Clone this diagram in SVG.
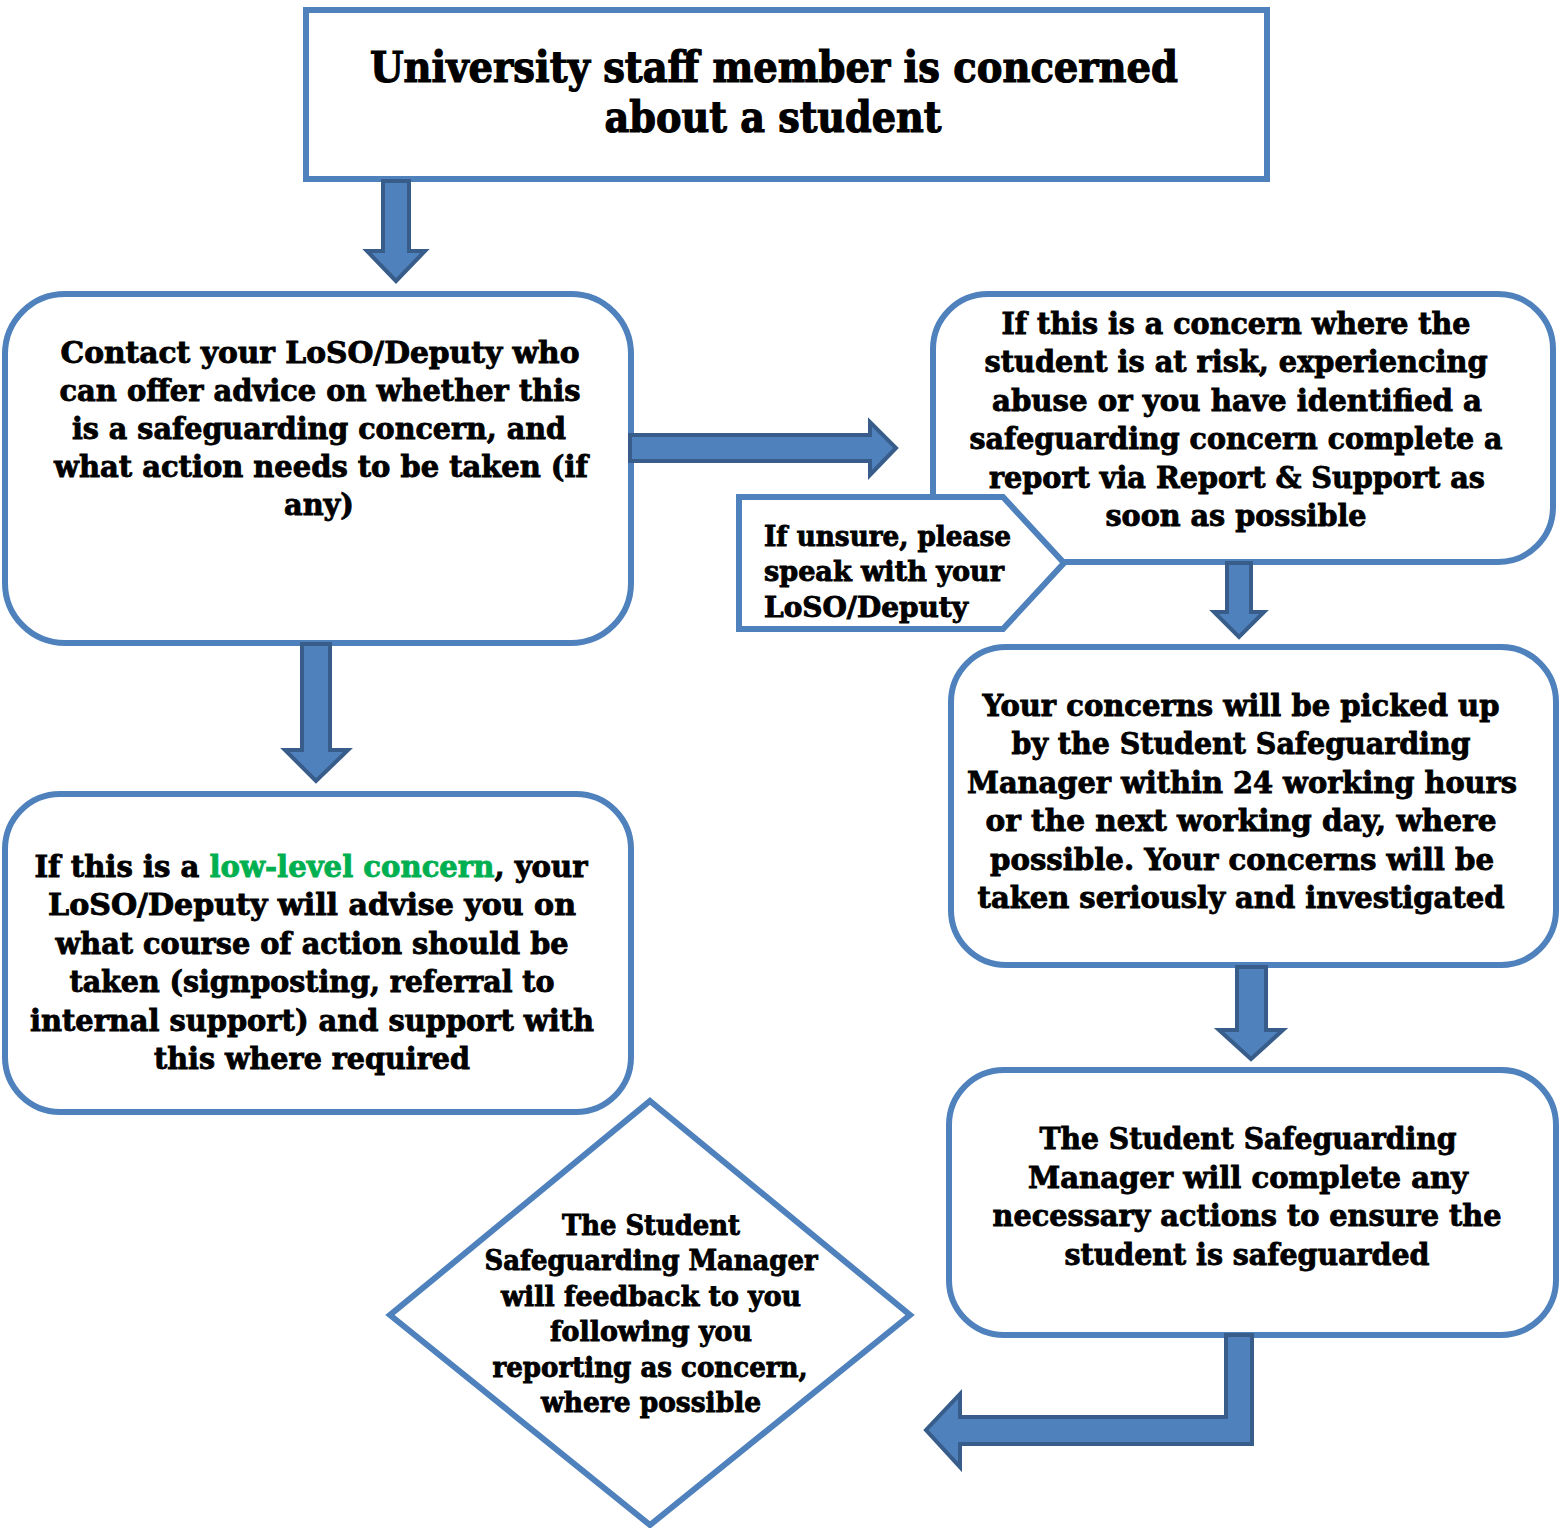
<svg xmlns="http://www.w3.org/2000/svg" width="1559" height="1528" viewBox="0 0 1559 1528">
<style>
.box{fill:#fff;stroke:#4f81bd;stroke-width:6}
.arr{fill:#4f81bd;stroke:#385d8a;stroke-width:4;stroke-linejoin:miter}
text{font-family:"DejaVu Serif Condensed","DejaVu Serif",serif;font-weight:bold;fill:#000;stroke:#000;stroke-width:0.8;text-anchor:middle}
.t{font-size:42px;stroke-width:1.1}
.b{font-size:30px}
.s{font-size:27px}
.l{text-anchor:start}
.g{fill:#00b050;stroke:#00b050}
</style>
<rect width="1559" height="1528" fill="#fff"/>
<g id="n1">
<rect class="box" x="306" y="10" width="961" height="169" stroke-width="5"/>
<text class="t" x="774" y="82" textLength="808" lengthAdjust="spacingAndGlyphs">University staff member is concerned</text>
<text class="t" x="773" y="132" textLength="337" lengthAdjust="spacingAndGlyphs">about a student</text>
</g>
<g id="n2">
<rect class="box" x="5" y="294" width="626" height="349" rx="60"/>
<text class="b" x="320" y="363" textLength="519" lengthAdjust="spacingAndGlyphs">Contact your LoSO/Deputy who</text>
<text class="b" x="320" y="401" textLength="521" lengthAdjust="spacingAndGlyphs">can offer advice on whether this</text>
<text class="b" x="319" y="439" textLength="494" lengthAdjust="spacingAndGlyphs">is a safeguarding concern, and</text>
<text class="b" x="321" y="477" textLength="534" lengthAdjust="spacingAndGlyphs">what action needs to be taken (if</text>
<text class="b" x="319" y="515" textLength="70" lengthAdjust="spacingAndGlyphs">any)</text>
</g>
<g id="n3">
<rect class="box" x="933" y="294" width="620" height="268" rx="55"/>
<text class="b" x="1236" y="334" textLength="469" lengthAdjust="spacingAndGlyphs">If this is a concern where the</text>
<text class="b" x="1236" y="372" textLength="503" lengthAdjust="spacingAndGlyphs">student is at risk, experiencing</text>
<text class="b" x="1237" y="411" textLength="490" lengthAdjust="spacingAndGlyphs">abuse or you have identified a</text>
<text class="b" x="1236" y="449" textLength="533" lengthAdjust="spacingAndGlyphs">safeguarding concern complete a</text>
<text class="b" x="1237" y="488" textLength="496" lengthAdjust="spacingAndGlyphs">report via Report &amp; Support as</text>
<text class="b" x="1236" y="526" textLength="261" lengthAdjust="spacingAndGlyphs">soon as possible</text>
</g>
<g id="n4">
<polygon class="box" stroke-width="5" points="739,497 1003,497 1064,563 1003,629 739,629"/>
<text class="s l" x="764" y="546" textLength="247" lengthAdjust="spacingAndGlyphs">If unsure, please</text>
<text class="s l" x="764" y="581" textLength="240" lengthAdjust="spacingAndGlyphs">speak with your</text>
<text class="s l" x="764" y="617" textLength="204" lengthAdjust="spacingAndGlyphs">LoSO/Deputy</text>
</g>
<g id="n5">
<rect class="box" x="951" y="647" width="605" height="318" rx="55"/>
<text class="b" x="1241" y="716" textLength="517" lengthAdjust="spacingAndGlyphs">Your concerns will be picked up</text>
<text class="b" x="1241" y="754" textLength="459" lengthAdjust="spacingAndGlyphs">by the Student Safeguarding</text>
<text class="b" x="1242" y="793" textLength="550" lengthAdjust="spacingAndGlyphs">Manager within 24 working hours</text>
<text class="b" x="1241" y="831" textLength="511" lengthAdjust="spacingAndGlyphs">or the next working day, where</text>
<text class="b" x="1242" y="870" textLength="504" lengthAdjust="spacingAndGlyphs">possible. Your concerns will be</text>
<text class="b" x="1241" y="908" textLength="527" lengthAdjust="spacingAndGlyphs">taken seriously and investigated</text>
</g>
<g id="n6">
<rect class="box" x="949" y="1070" width="607" height="265" rx="55"/>
<text class="b" x="1248" y="1149" textLength="417" lengthAdjust="spacingAndGlyphs">The Student Safeguarding</text>
<text class="b" x="1248" y="1188" textLength="440" lengthAdjust="spacingAndGlyphs">Manager will complete any</text>
<text class="b" x="1247" y="1226" textLength="509" lengthAdjust="spacingAndGlyphs">necessary actions to ensure the</text>
<text class="b" x="1247" y="1265" textLength="365" lengthAdjust="spacingAndGlyphs">student is safeguarded</text>
</g>
<g id="n7">
<rect class="box" x="5" y="794" width="626" height="318" rx="55"/>
<text class="b" x="311" y="877" textLength="553" lengthAdjust="spacingAndGlyphs">If this is a <tspan class="g">low-level concern</tspan>, your</text>
<text class="b" x="312" y="915" textLength="528" lengthAdjust="spacingAndGlyphs">LoSO/Deputy will advise you on</text>
<text class="b" x="312" y="954" textLength="513" lengthAdjust="spacingAndGlyphs">what course of action should be</text>
<text class="b" x="312" y="992" textLength="485" lengthAdjust="spacingAndGlyphs">taken (signposting, referral to</text>
<text class="b" x="312" y="1031" textLength="564" lengthAdjust="spacingAndGlyphs">internal support) and support with</text>
<text class="b" x="312" y="1069" textLength="316" lengthAdjust="spacingAndGlyphs">this where required</text>
</g>
<g id="n8">
<polygon class="box" stroke-width="5" points="650,1101 910,1315 650,1525 390,1315"/>
<text class="s" x="651" y="1235" textLength="178" lengthAdjust="spacingAndGlyphs">The Student</text>
<text class="s" x="651" y="1270" textLength="333" lengthAdjust="spacingAndGlyphs">Safeguarding Manager</text>
<text class="s" x="651" y="1306" textLength="300" lengthAdjust="spacingAndGlyphs">will feedback to you</text>
<text class="s" x="651" y="1341" textLength="202" lengthAdjust="spacingAndGlyphs">following you</text>
<text class="s" x="650" y="1377" textLength="315" lengthAdjust="spacingAndGlyphs">reporting as concern,</text>
<text class="s" x="651" y="1412" textLength="220" lengthAdjust="spacingAndGlyphs">where possible</text>
</g>
<g id="connectors">
<polygon class="arr" points="383,181 409,181 409,251 425,251 396,281 367,251 383,251"/>
<polygon class="arr" points="630,435 870,435 870,422 896,448 870,475 870,461 630,461"/>
<polygon class="arr" points="1227,563 1251,563 1251,612 1264,612 1239,637 1214,612 1227,612"/>
<polygon class="arr" points="302,644 330,644 330,750 348,750 316,781 285,750 302,750"/>
<polygon class="arr" points="1237,967 1266,967 1266,1030 1283,1030 1251,1059 1219,1030 1237,1030"/>
<polygon class="arr" points="1226,1335 1252,1335 1252,1444 960,1444 960,1467 926,1430 960,1394 960,1417 1226,1417"/>
</g>
</svg>
